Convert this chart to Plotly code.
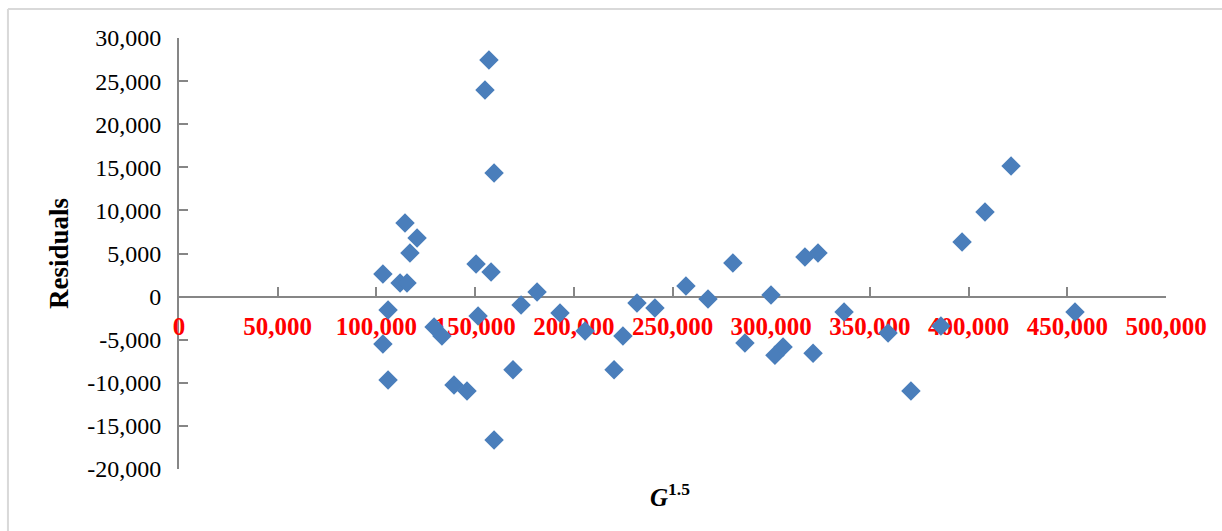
import plotly.graph_objects as go

# G^1.5 values and the corresponding regression residuals
g15 = [103300, 105900, 103300, 105900, 112000, 115500, 114500, 120600, 117000,
       129200, 133200, 139300, 145900, 150500, 151500, 155000, 157000, 158100,
       159600, 159600, 169200, 173300, 181400, 193000, 205700, 220400, 224900,
       232000, 241100, 256800, 268000, 280600, 286700, 299900, 301900, 306000,
       317100, 323700, 321200, 336900, 359200, 370800, 386000, 396700, 408300,
       421500, 453900]
residuals = [2620, -1550, -5500, -9670, 1580, 1580, 8540, 6800, 5060,
             -3530, -4570, -10260, -10950, 3780, -2250, 23970, 27450, 2850,
             14340, -16640, -8500, -970, 530, -1900, -3990, -8500, -4570,
             -740, -1320, 1230, -280, 3900, -5380, 190, -6800, -5840,
             4600, 5060, -6570, -1780, -4220, -10950, -3400, 6340, 9820,
             15160, -1800]

x_ticks = [0, 50000, 100000, 150000, 200000, 250000, 300000, 350000, 400000, 450000, 500000]
x_tick_labels = ["0", "50,000", "100,000", "150,000", "200,000", "250,000",
                 "300,000", "350,000", "400,000", "450,000", "500,000"]
y_ticks = [-20000, -15000, -10000, -5000, 0, 5000, 10000, 15000, 20000, 25000, 30000]
y_tick_labels = ["-20,000", "-15,000", "-10,000", "-5,000", "0", "5,000",
                 "10,000", "15,000", "20,000", "25,000", "30,000"]

Y_MIN, Y_MAX = -20000, 30000
AXIS_GREY = "#868686"
SERIF = "Liberation Serif"

fig = go.Figure(
    go.Scatter(
        x=g15,
        y=residuals,
        mode="markers",
        marker=dict(symbol="diamond", size=15, color="#4a7ebb",
                    line=dict(width=0)),
        showlegend=False,
        cliponaxis=False,
    )
)

fig.update_layout(
    width=1222,
    height=531,
    margin=dict(l=179, r=56, t=38, b=62),
    paper_bgcolor="white",
    plot_bgcolor="white",
    xaxis=dict(
        range=[0, 500000],
        tickvals=x_ticks,
        ticktext=x_tick_labels,
        ticks="inside",
        ticklen=9,
        tickwidth=2,
        tickcolor=AXIS_GREY,
        showline=True,
        linecolor=AXIS_GREY,
        linewidth=2,
        showgrid=False,
        zeroline=False,
        anchor="free",
        # the horizontal axis crosses the vertical one at zero
        position=(0 - Y_MIN) / (Y_MAX - Y_MIN),
        layer="below traces",
        ticklabelstandoff=7,
        tickfont=dict(family=SERIF, size=25, color="#ff0000", weight="bold"),
    ),
    yaxis=dict(
        range=[Y_MIN, Y_MAX],
        tickvals=y_ticks,
        ticktext=y_tick_labels,
        ticks="inside",
        ticklen=9,
        tickwidth=2,
        tickcolor=AXIS_GREY,
        showline=True,
        linecolor=AXIS_GREY,
        linewidth=2,
        showgrid=False,
        zeroline=False,
        layer="below traces",
        ticklabelstandoff=11,
        tickfont=dict(family=SERIF, size=24, color="#000000"),
    ),
    annotations=[
        dict(text="<b>Residuals</b>", textangle=-90,
             xref="paper", yref="paper", x=-0.122, y=0.5,
             xanchor="center", yanchor="middle", showarrow=False,
             font=dict(family=SERIF, size=27, color="#000000")),
        dict(text="<b><i>G</i><sup>1.5</sup></b>",
             xref="paper", yref="paper", x=0.497, y=-0.06,
             xanchor="center", yanchor="middle", showarrow=False,
             font=dict(family=SERIF, size=25, color="#000000")),
    ],
    shapes=[
        # light outer frame of the chart area
        dict(type="line", xref="paper", yref="paper",
             x0=-0.1733, x1=1.06, y0=1.0672, y1=1.0672,
             line=dict(color="#d9d9d9", width=2)),
        dict(type="line", xref="paper", yref="paper",
             x0=-0.1733, x1=-0.1733, y0=-0.2, y1=1.0672,
             line=dict(color="#d9d9d9", width=2)),
    ],
)

fig.write_html("out.html")
